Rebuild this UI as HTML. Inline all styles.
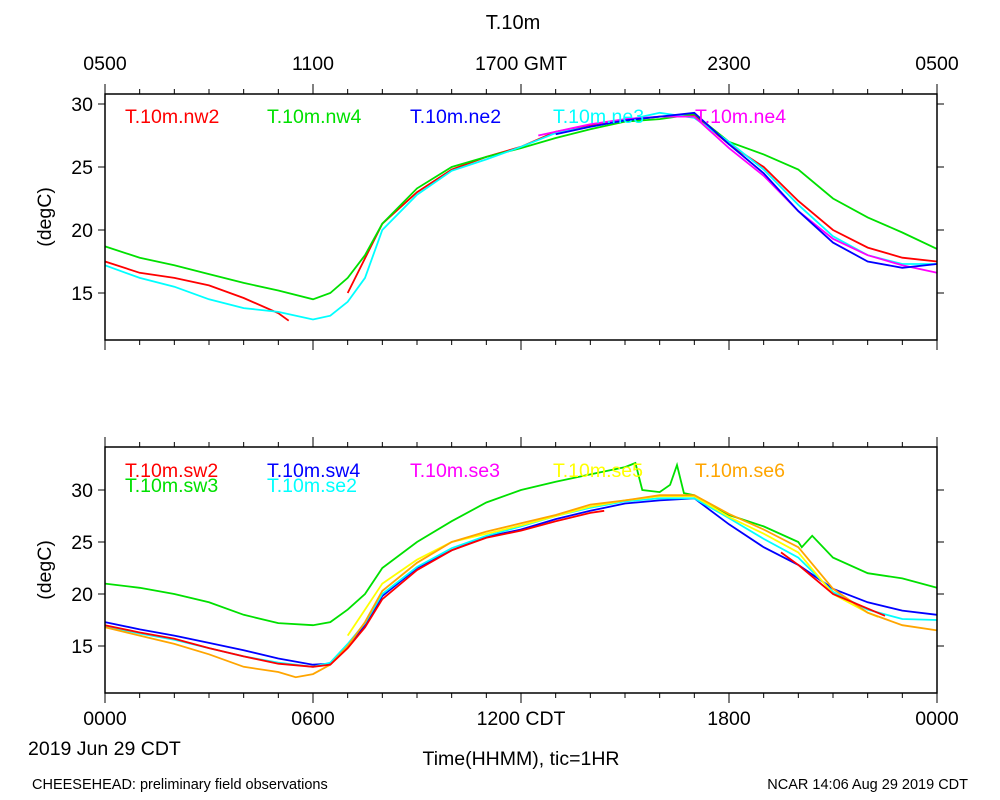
<!DOCTYPE html>
<html><head><meta charset="utf-8"><style>
body{margin:0;background:#fff;}
svg{display:block;font-family:"Liberation Sans",sans-serif;}
</style></head><body>
<svg id="chart" width="1000" height="800">
<text x="513" y="29" font-size="20" text-anchor="middle">T.10m</text>
<g id="g"></g>
<text x="28" y="755" font-size="19.5">2019 Jun 29 CDT</text>
<text x="521" y="765" font-size="19.5" text-anchor="middle">Time(HHMM), tic=1HR</text>
<text x="32" y="789" font-size="14.5">CHEESEHEAD: preliminary field observations</text>
<text x="968" y="789" font-size="14.5" text-anchor="end">NCAR 14:06 Aug 29 2019 CDT</text>
</svg>
<script>
// ---- data ----
const topTicks=[15,20,25,30];
const botTicks=[15,20,25,30];
const topGmtLabels=["0500","1100","1700 GMT","2300","0500"];
const botCdtLabels=["0000","0600","1200 CDT","1800","0000"];
const nw2T=[0,1,2,3,4,5,5.3,null,7,8,9,10,11,12,13,14,15,16,17,18,19,20,21,22,23,24];
const nw2V=[17.5,16.6,16.2,15.6,14.6,13.4,12.8,null,15.0,20.5,23.0,24.8,25.8,26.6,27.8,28.3,28.7,29.0,29.1,26.8,25.0,22.3,20.0,18.6,17.8,17.5];
const nw4T=[0,1,2,3,4,5,6,6.5,7,7.5,8,9,10,11,12,13,14,15,16,17,18,19,20,21,22,23,24];
const nw4V=[18.7,17.8,17.2,16.5,15.8,15.2,14.5,15.0,16.2,18.0,20.5,23.3,25.0,25.8,26.5,27.3,28.0,28.6,28.8,29.2,27.0,26.0,24.8,22.5,21.0,19.8,18.5];
const ne2T=[13,14,15,16,17,18,19,20,21,22,23,24];
const ne2V=[27.6,28.2,28.7,29.0,29.3,26.8,24.5,21.5,19.0,17.5,17.0,17.3];
const ne3T=[0,1,2,3,4,5,6,6.5,7,7.5,8,9,10,11,12,13,14,15,16,17,18,19,20,21,22,23,24];
const ne3V=[17.2,16.2,15.5,14.5,13.8,13.5,12.9,13.2,14.3,16.2,20.0,22.8,24.7,25.6,26.6,27.7,28.2,28.7,29.3,28.9,27.0,24.8,22.0,19.5,18.0,17.3,17.3];
const ne4T=[12.5,13,14,15,16,17,18,19,20,21,22,23,24];
const ne4V=[27.5,27.8,28.4,28.8,29.0,29.0,26.5,24.3,21.5,19.3,18.0,17.2,16.6];
const sw2T=[0,1,2,3,4,5,6,6.5,7,7.5,8,9,10,11,12,13,14,14.4,null,19.5,20,21,22,22.5];
const sw2V=[17.0,16.3,15.7,14.8,14.0,13.3,13.0,13.2,14.8,16.8,19.5,22.3,24.2,25.4,26.1,27.0,27.8,28.0,null,24.0,22.8,20.0,18.6,17.9];
const sw3T=[0,1,2,3,4,5,6,6.5,7,7.5,8,9,10,11,12,13,14,15,15.3,15.5,16,16.3,16.5,16.7,17,18,19,20,20.1,20.4,21,22,23,24];
const sw3V=[21.0,20.6,20.0,19.2,18.0,17.2,17.0,17.3,18.5,20.0,22.5,25.0,27.0,28.8,30.0,30.8,31.5,32.2,32.6,30.0,29.8,30.5,32.4,29.7,29.5,27.6,26.5,25.0,24.5,25.6,23.5,22.0,21.5,20.6];
const sw4T=[0,1,2,3,4,5,6,6.5,7,7.5,8,9,10,11,12,13,14,15,16,17,18,19,20,21,22,23,24];
const sw4V=[17.3,16.6,16.0,15.3,14.6,13.8,13.2,13.3,15.0,17.0,19.8,22.5,24.2,25.5,26.2,27.2,28.0,28.7,29.0,29.2,26.7,24.5,22.8,20.5,19.2,18.4,18.0];
const se2T=[0,1,2,3,4,5,6,6.5,7,7.5,8,9,10,11,12,13,14,15,16,17,18,19,20,21,22,23,24];
const se2V=[16.9,16.2,15.6,14.8,14.0,13.4,13.0,13.4,15.2,17.2,20.0,22.6,24.4,25.6,26.5,27.5,28.3,28.9,29.2,29.2,27.3,25.3,23.5,20.2,18.5,17.6,17.5];
const se5T=[7,7.5,8,9,10,11,12,13,14,15,16,17,18,19,20,21,22,22.3];
const se5V=[16.0,18.5,21.0,23.3,25.0,25.8,26.6,27.5,28.4,29.0,29.4,29.4,27.4,25.8,24.0,20.0,18.2,17.8];
const se6T=[0,1,2,3,4,5,5.5,6,6.5,7,7.5,8,9,10,11,12,13,14,15,16,17,18,19,20,21,22,23,24];
const se6V=[16.8,16.0,15.2,14.2,13.0,12.5,12.0,12.3,13.2,15.0,17.3,20.3,23.0,25.0,26.0,26.8,27.6,28.6,29.0,29.5,29.5,27.7,26.2,24.5,20.5,18.2,17.0,16.5];

const NS='http://www.w3.org/2000/svg';
const g=document.getElementById('g');
function el(t,a,parent){const e=document.createElementNS(NS,t);for(const k in a)e.setAttribute(k,a[k]);(parent||g).appendChild(e);return e;}
const X0=105,X1=937;
const xs=h=>X0+(X1-X0)*h/24;
const FS=19.5;
const panels=[
 {y0:94,y1:340,ref:30,refY:104,ppd:12.6,ticks:topTicks,name:'top',
  series:[["nw2","#ff0000",nw2T,nw2V],["nw4","#00e000",nw4T,nw4V],["ne3","#00ffff",ne3T,ne3V],["ne4","#ff00ff",ne4T,ne4V],["ne2","#0000ff",ne2T,ne2V]],
  legend:[["T.10m.nw2","#ff0000",125,123],["T.10m.nw4","#00e000",267,123],["T.10m.ne2","#0000ff",410,123],["T.10m.ne3","#00ffff",553,123],["T.10m.ne4","#ff00ff",695,123]]},
 {y0:447,y1:693,ref:30,refY:490,ppd:10.4,ticks:botTicks,name:'bottom',
  series:[["sw3","#00e000",sw3T,sw3V],["sw4","#0000ff",sw4T,sw4V],["se2","#00ffff",se2T,se2V],["se5","#ffff00",se5T,se5V],["se6","#ffa500",se6T,se6V],["sw2","#ff0000",sw2T,sw2V]],
  legend:[["T.10m.sw2","#ff0000",125,477],["T.10m.sw4","#0000ff",267,477],["T.10m.se3","#ff00ff",410,477],["T.10m.se5","#ffff00",553,477],["T.10m.se6","#ffa500",695,477],["T.10m.sw3","#00e000",125,492],["T.10m.se2","#00ffff",267,492]]}
];
panels.forEach(p=>{
 const ys=v=>p.refY+(p.ref-v)*p.ppd;
 p.series.forEach(s=>{
  let d='',pen=false;
  s[2].forEach((t,i)=>{const v=s[3][i];if(t===null||v===null){pen=false;return;}
   d+=(pen?'L':'M')+xs(t).toFixed(1)+' '+ys(v).toFixed(1)+' ';pen=true;});
  const l=el('path',{d:d,fill:'none',stroke:s[1],'stroke-width':1.8});
  
  
 });
 const f=el('rect',{x:X0,y:p.y0,width:X1-X0,height:p.y1-p.y0,fill:'none',stroke:'#000','stroke-width':1.5});
 
 
 for(let h=0;h<=24;h++){const x=xs(h);const L=h%6===0?10:5;
  el('line',{x1:x,x2:x,y1:p.y0,y2:p.y0-L,stroke:'#000','stroke-width':1});
  el('line',{x1:x,x2:x,y1:p.y1,y2:p.y1+L,stroke:'#000','stroke-width':1});}
 p.ticks.forEach(v=>{const y=ys(v);
  el('line',{x1:X0,x2:X0-7,y1:y,y2:y,stroke:'#000'});
  el('line',{x1:X1,x2:X1+7,y1:y,y2:y,stroke:'#000'});
  const t=el('text',{x:93,y:y+7,'font-size':FS,'text-anchor':'end'});t.textContent=v;
  
  });
 const yl=el('text',{x:0,y:0,'font-size':FS,'text-anchor':'middle',transform:`translate(51,${(p.y0+p.y1)/2}) rotate(-90)`});
 yl.textContent='(degC)';
 
 
 p.legend.forEach(l=>{const t=el('text',{x:l[2],y:l[3],'font-size':FS,fill:l[1]});t.textContent=l[0];
  
  });
});
topGmtLabels.forEach((s,i)=>{const t=el('text',{x:xs(i*6),y:70,'font-size':FS,'text-anchor':'middle'});t.textContent=s;
 
 });
botCdtLabels.forEach((s,i)=>{const t=el('text',{x:xs(i*6),y:725,'font-size':FS,'text-anchor':'middle'});t.textContent=s;
 
 });
</script>
</body></html>
